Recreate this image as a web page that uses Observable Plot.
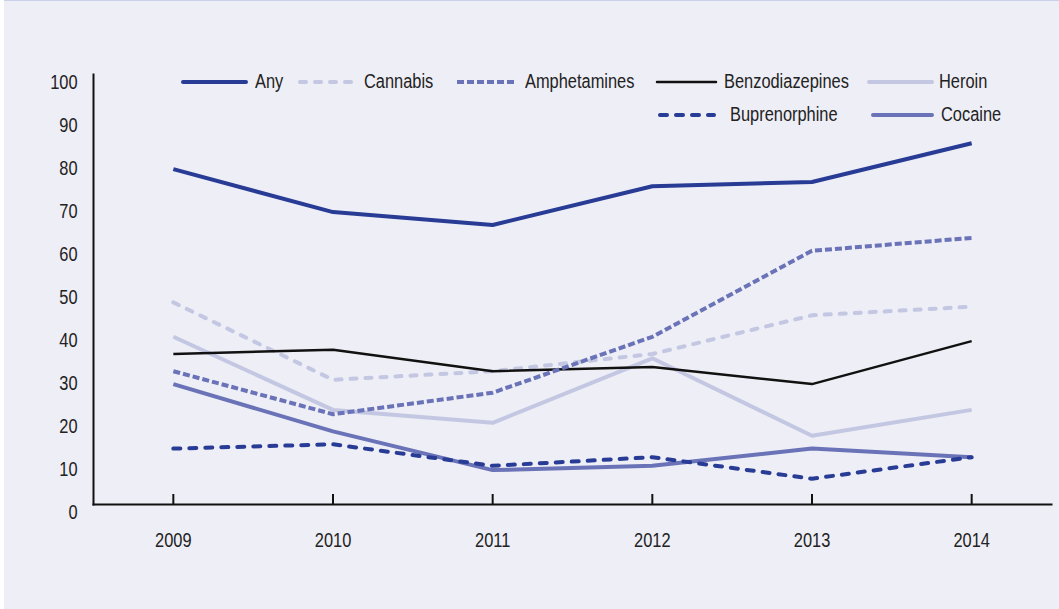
<!DOCTYPE html>
<html>
<head>
<meta charset="utf-8">
<script src="https://cdn.jsdelivr.net/npm/d3@7"></script>
<script src="https://cdn.jsdelivr.net/npm/@observablehq/plot@0.6"></script>
<style>
  html, body { margin: 0; padding: 0; background: #ffffff; }
  #wrap { position: relative; width: 1059px; height: 609px; overflow: hidden; background: #ffffff; }
  #bg { position: absolute; left: 4px; top: 0; right: 0; bottom: 0; background: #eeeef6; border-top: 1px solid #c9d0ea; }
  #chart { position: absolute; left: 0; top: 0; }
  .lg { position: absolute; font-family: "Liberation Sans", Arial, sans-serif; font-size: 20px; color: #222; height: 24px; line-height: 24px; white-space: nowrap; transform: scaleX(0.82); transform-origin: 0 50%; }
  .sw { position: absolute; }
</style>
</head>
<body>
<div id="wrap"><div id="bg"></div><div id="chart"></div></div>
<script>
// ---- data ----
const years = [2009, 2010, 2011, 2012, 2013, 2014];
const yTicks = [0, 10, 20, 30, 40, 50, 60, 70, 80, 90, 100];
const any = [78, 68, 65, 74, 75, 84];
const cannabis = [47, 29, 31, 35, 44, 46];
const amphetamines = [31, 21, 26, 39, 59, 62];
const benzodiazepines = [35, 36, 31, 32, 28, 38];
const heroin = [39, 22, 19, 34, 16, 22];
const buprenorphine = [13, 14, 9, 11, 6, 11];
const cocaine = [28, 17, 8, 9, 13, 11];

// ---- styles ----
const DARK = "#283b95", MID = "#6a73b7", LIGHT = "#c3c7e2";
const series = [
  {name: "Heroin", values: heroin, stroke: LIGHT, width: 4, dash: null, cap: "butt"},
  {name: "Cannabis", values: cannabis, stroke: LIGHT, width: 4, dash: "6,9", cap: "round"},
  {name: "Benzodiazepines", values: benzodiazepines, stroke: "#111111", width: 2.5, dash: null, cap: "butt"},
  {name: "Cocaine", values: cocaine, stroke: MID, width: 4, dash: null, cap: "butt"},
  {name: "Amphetamines", values: amphetamines, stroke: MID, width: 4, dash: "7,3", cap: "butt"},
  {name: "Buprenorphine", values: buprenorphine, stroke: DARK, width: 4, dash: "7,9", cap: "round"},
  {name: "Any", values: any, stroke: DARK, width: 4, dash: null, cap: "butt"}
];
const rows = series.flatMap(s => years.map((yr, i) => ({series: s.name, year: String(yr), value: s.values[i]})));

const FONT = '"Liberation Sans", Arial, sans-serif';

const chart = Plot.plot({
  width: 1059,
  height: 609,
  marginLeft: 93,
  marginRight: 8,
  marginTop: 74,
  marginBottom: 105,
  style: {background: "transparent", fontFamily: FONT, fontSize: "20px", color: "#222"},
  x: {type: "point", domain: years.map(String), padding: 0.5, round: false, label: null},
  y: {domain: [0, 100], label: null},
  marks: [
    Plot.frame({anchor: "left", stroke: "#111", strokeWidth: 2}),
    Plot.frame({anchor: "bottom", stroke: "#111", strokeWidth: 2}),
    Plot.axisY({ticks: yTicks, tickSize: 0, tickPadding: 16, dy: 8, label: null}),
    Plot.axisX({tickSize: -10, tickPadding: 38, label: null, strokeWidth: 2, stroke: "#111"}),
    ...series.map(s => Plot.line(rows.filter(r => r.series === s.name), {
      x: "year", y: "value", stroke: s.stroke, strokeWidth: s.width,
      strokeDasharray: s.dash, strokeLinecap: s.cap, strokeLinejoin: "round"
    }))
  ]
});
document.getElementById("chart").appendChild(chart);
// condensed look for the axis labels (no narrow face installed)
d3.select(chart).selectAll("text").each(function () {
  const w = this.getComputedTextLength();
  if (w > 0) {
    this.setAttribute("textLength", (w * 0.82).toFixed(2));
    this.setAttribute("lengthAdjust", "spacingAndGlyphs");
  }
});

// ---- legend (layout only) ----
const legendItems = [
  {name: "Any", x1: 183, x2: 246, tx: 255, y: 82},
  {name: "Cannabis", x1: 298, x2: 354, tx: 364, y: 82},
  {name: "Amphetamines", x1: 457, x2: 517, tx: 525, y: 82},
  {name: "Benzodiazepines", x1: 657, x2: 716, tx: 724, y: 82},
  {name: "Heroin", x1: 869, x2: 932, tx: 939, y: 82},
  {name: "Buprenorphine", x1: 658, x2: 716, tx: 730, y: 115},
  {name: "Cocaine", x1: 873, x2: 932, tx: 941, y: 115}
];
const wrap = document.getElementById("wrap");
legendItems.forEach(it => {
  const s = series.find(d => d.name === it.name);
  const svgNS = "http://www.w3.org/2000/svg";
  const sw = document.createElementNS(svgNS, "svg");
  sw.setAttribute("class", "sw");
  sw.setAttribute("width", it.x2 - it.x1 + 8);
  sw.setAttribute("height", 12);
  sw.style.left = (it.x1 - 4) + "px";
  sw.style.top = (it.y - 6) + "px";
  const ln = document.createElementNS(svgNS, "line");
  ln.setAttribute("x1", s.cap === "round" ? 6 : 4);
  ln.setAttribute("x2", it.x2 - it.x1 + (s.cap === "round" ? 2 : 4));
  ln.setAttribute("y1", 6); ln.setAttribute("y2", 6);
  ln.setAttribute("stroke", s.stroke);
  ln.setAttribute("stroke-width", s.width);
  if (s.dash) ln.setAttribute("stroke-dasharray", s.dash);
  ln.setAttribute("stroke-linecap", s.cap === "butt" && !s.dash ? "round" : s.cap);
  sw.appendChild(ln);
  wrap.appendChild(sw);
  const t = document.createElement("div");
  t.className = "lg";
  t.textContent = it.name;
  t.style.left = it.tx + "px";
  t.style.top = (it.y - 13) + "px";
  wrap.appendChild(t);
});
</script>
</body>
</html>
